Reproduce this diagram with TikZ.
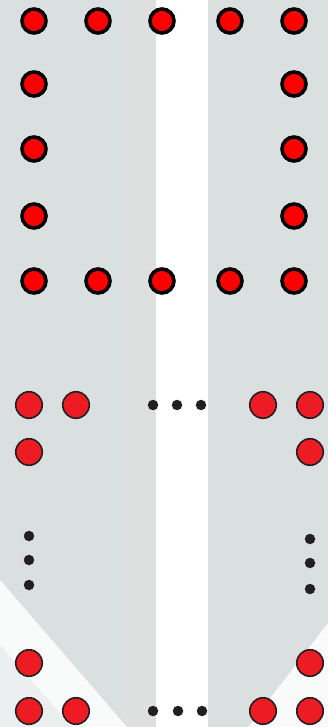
\documentclass[tikz,border=0pt]{standalone}
\definecolor{bggray}{HTML}{DADFDF}
\definecolor{bggray2}{HTML}{DEDFDF}
\definecolor{redA}{HTML}{FF0000}
\definecolor{redB}{HTML}{ED1C24}
\definecolor{inkB}{HTML}{231F20}
\begin{document}
\begin{tikzpicture}[x=1pt,y=-1pt,
  topdot/.style={circle,draw=black,line width=3.6pt,fill=redA,minimum size=24pt,inner sep=0pt},
  botdot/.style={circle,draw=inkB,line width=1.6pt,fill=redB,minimum size=26.5pt,inner sep=0pt},
  smalldot/.style={circle,fill=inkB,minimum size=10.5pt,inner sep=0pt}]
\useasboundingbox (0,0) rectangle (328,727);
% background
\fill[bggray] (0,0) rectangle (328,727);
\fill[bggray2] (122,0) rectangle (156,727);
\fill[white] (156,0) rectangle (208,727);
\fill[white,opacity=0.85] (0,580) -- (127,727) -- (72,727) -- (0,645) -- cycle;
\fill[white,opacity=0.5] (0,645) -- (72,727) -- (0,727) -- cycle;
\fill[white,opacity=0.85] (328,623) -- (328,727) -- (248,727) -- cycle;
% top square of dots
\foreach \n/\x/\y in {a1/34/21, a2/98/21, a3/162/21, a4/230/21, a5/294/21,
  b1/34/84, b5/294/84, c1/34/149, c5/294/149, d1/34/216, d5/294/216,
  e1/34/281, e2/98/281, e3/162/281, e4/230/281, e5/294/281}
  \node[topdot] (\n) at (\x,\y) {};
% bottom frame of dots
\foreach \n/\x/\y in {f1/29/405, f2/76/405, f4/263/405, f5/310/405,
  g1/29/452, g5/310/452, h1/29/663, h5/310/663,
  i1/29/711, i2/76/711, i4/263/711, i5/310/711}
  \node[botdot] (\n) at (\x,\y) {};
% ellipsis dots
\foreach \n/\x/\y in {p1/153/405, p2/177/405, p3/201/405,
  q1/153/711, q2/178/711, q3/202/711,
  l1/29/536, l2/29/560, l3/29/585,
  r1/310/539, r2/310/563, r3/310/589}
  \node[smalldot] (\n) at (\x,\y) {};
\end{tikzpicture}
\end{document}
